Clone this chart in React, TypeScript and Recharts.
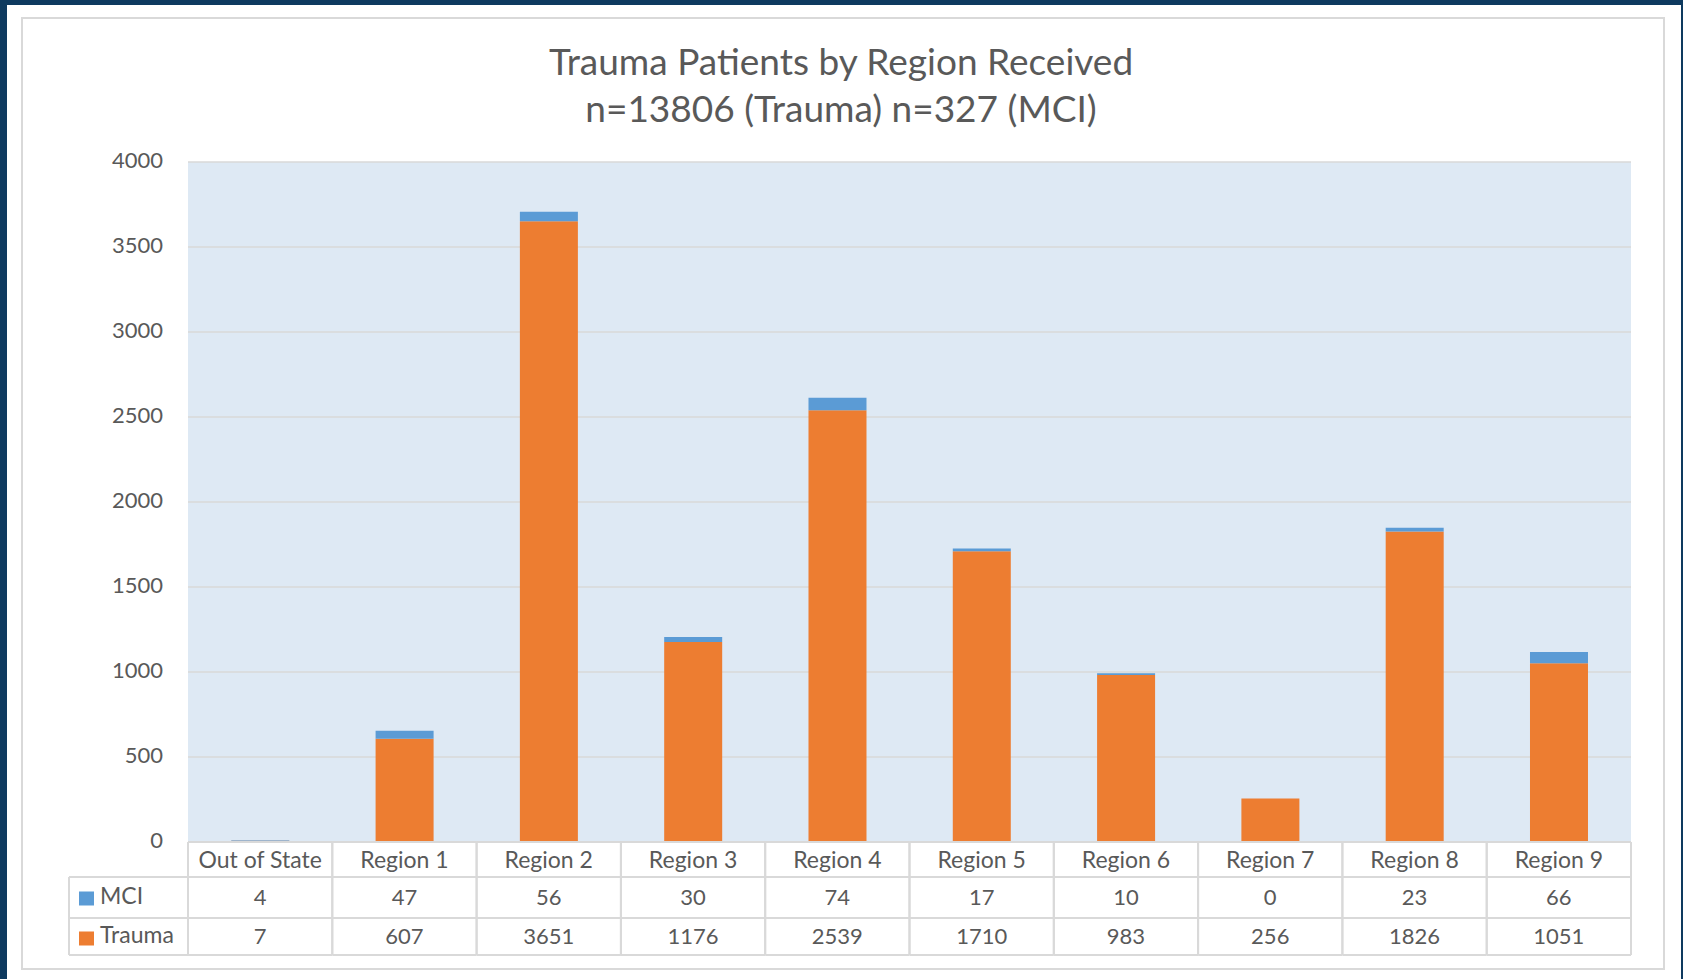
import { Bar, BarChart, CartesianGrid, XAxis, YAxis } from "recharts";

const regions = [
  "Out of State",
  "Region 1",
  "Region 2",
  "Region 3",
  "Region 4",
  "Region 5",
  "Region 6",
  "Region 7",
  "Region 8",
  "Region 9"
];
const mci = [4, 47, 56, 30, 74, 17, 10, 0, 23, 66];
const trauma = [7, 607, 3651, 1176, 2539, 1710, 983, 256, 1826, 1051];
const yTicks = [0, 500, 1000, 1500, 2000, 2500, 3000, 3500, 4000];

const data = regions.map((name, i) => ({ name, mci: mci[i], trauma: trauma[i] }));

const font = "Lato, 'Open Sans', sans-serif";
const textColor = "#595959";
const lineColor = "#d9d9d9";
const mciColor = "#5b9bd5";
const traumaColor = "#ed7d31";

// x axis tick renders one column of the data table under the plot
function TableTick(props: any) {
  const { x, y, payload, index } = props;
  const half = payload?.offset || (props.width ? props.width / regions.length / 2 : 72);
  const left = x - half;
  const right = x + half;
  const r1 = y + 35;
  const r2 = y + 76;
  const r3 = y + 113;
  const legendLeft = left - 119;
  return (
    <g>
      <line x1={left} x2={right} y1={y} y2={y} stroke={lineColor} strokeWidth={2} />
      <line x1={left} x2={right} y1={r1} y2={r1} stroke={lineColor} strokeWidth={2} />
      <line x1={left} x2={right} y1={r2} y2={r2} stroke={lineColor} strokeWidth={2} />
      <line x1={left} x2={right} y1={r3} y2={r3} stroke={lineColor} strokeWidth={2} />
      <line x1={left} x2={left} y1={y} y2={r3} stroke={lineColor} strokeWidth={2} />
      <line x1={right} x2={right} y1={y} y2={r3} stroke={lineColor} strokeWidth={2} />
      <text x={x} y={(y + r1) / 2} dy="0.36em" textAnchor="middle" fill={textColor} fontSize={23} fontFamily={font}>
        {payload.value}
      </text>
      <text x={x} y={(r1 + r2) / 2} dy="0.36em" textAnchor="middle" fill={textColor} fontSize={22} fontFamily={font}>
        {mci[index]}
      </text>
      <text x={x} y={(r2 + r3) / 2} dy="0.36em" textAnchor="middle" fill={textColor} fontSize={22} fontFamily={font}>
        {trauma[index]}
      </text>
      {index === 0 ? (
        <g>
          <line x1={legendLeft} x2={left} y1={r1} y2={r1} stroke={lineColor} strokeWidth={2} />
          <line x1={legendLeft} x2={left} y1={r2} y2={r2} stroke={lineColor} strokeWidth={2} />
          <line x1={legendLeft} x2={left} y1={r3} y2={r3} stroke={lineColor} strokeWidth={2} />
          <line x1={legendLeft} x2={legendLeft} y1={r1} y2={r3} stroke={lineColor} strokeWidth={2} />
          <rect x={legendLeft + 10} y={(r1 + r2) / 2 - 6} width={15} height={14} fill={mciColor} />
          <text x={legendLeft + 31} y={(r1 + r2) / 2 - 2} dy="0.36em" fill={textColor} fontSize={23} fontFamily={font}>
            MCI
          </text>
          <rect x={legendLeft + 10} y={(r2 + r3) / 2 - 5} width={15} height={14} fill={traumaColor} />
          <text x={legendLeft + 31} y={(r2 + r3) / 2 - 2} dy="0.36em" fill={textColor} fontSize={23} fontFamily={font}>
            Trauma
          </text>
        </g>
      ) : null}
    </g>
  );
}

export default function App() {
  return (
    <div style={{ position: "absolute", left: 0, top: 0, width: 1683, height: 979, background: "#0e3a5f", overflow: "hidden" }}>
      <div style={{ position: "absolute", left: 7, top: 5, width: 1674, height: 974, background: "#ffffff" }} />
      <div
        style={{
          position: "absolute",
          left: 21,
          top: 17,
          width: 1644,
          height: 953,
          border: `2px solid ${lineColor}`,
          boxSizing: "border-box"
        }}
      />
      <div
        style={{
          position: "absolute",
          left: 441,
          top: 37,
          width: 800,
          textAlign: "center",
          fontFamily: font,
          fontSize: 37,
          lineHeight: "47px",
          color: textColor
        }}
      >
        <div>Trauma Patients by Region Received</div>
        <div>n=13806 (Trauma) n=327 (MCI)</div>
      </div>
      <div style={{ position: "absolute", left: 0, top: 0 }}>
        <BarChart
          width={1683}
          height={979}
          data={data}
          margin={{ top: 162, right: 52, bottom: 22, left: 128 }}
          barCategoryGap="30%"
        >
          <CartesianGrid fill="#dee9f4" stroke={lineColor} strokeWidth={1.5} vertical={false} />
          <XAxis
            dataKey="name"
            height={115}
            axisLine={false}
            tickLine={false}
            tickSize={0}
            tickMargin={0}
            interval={0}
            tick={<TableTick />}
          />
          <YAxis
            width={60}
            domain={[0, 4000]}
            ticks={yTicks}
            axisLine={false}
            tickLine={false}
            tickSize={0}
            tickMargin={25}
            tick={{ fill: textColor, fontSize: 22, fontFamily: font, dy: -2 }}
          />
          <Bar dataKey="trauma" stackId="a" fill={traumaColor} isAnimationActive={false} />
          <Bar dataKey="mci" stackId="a" fill={mciColor} isAnimationActive={false} />
        </BarChart>
      </div>
    </div>
  );
}
